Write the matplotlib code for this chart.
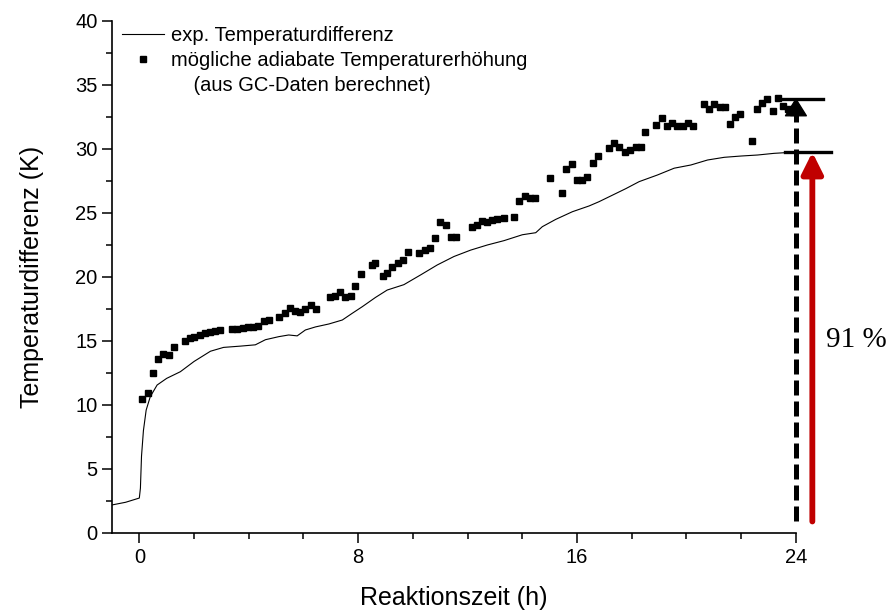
import matplotlib
matplotlib.use("Agg")
import matplotlib.pyplot as plt
from matplotlib.lines import Line2D
from matplotlib.ticker import MultipleLocator

plt.rcParams['font.family'] = ['Liberation Sans', 'DejaVu Sans']

# gemessene Temperaturdifferenz (Zeit in h, dT in K)
t_exp = [-1.0, -0.5, 0.0, 0.04, 0.08, 0.15, 0.25, 0.4, 0.65, 1.0, 1.5, 2.0,
         2.6, 3.08, 3.7, 4.24, 4.61, 5.1, 5.46, 5.77, 6.07, 6.44, 6.93, 7.42,
         7.78, 8.15, 8.63, 9.06, 9.67, 10.28, 10.89, 11.5, 12.11, 12.72,
         13.33, 14.0, 14.49, 14.73, 15.22, 15.83, 16.44, 16.8, 17.3, 17.78,
         18.27, 18.94, 19.55, 20.16, 20.77, 21.38, 21.99, 22.6, 23.2, 23.82,
         24.0]
dT_exp = [2.19, 2.4, 2.73, 3.5, 6.0, 8.0, 9.6, 10.65, 11.56, 12.08, 12.6, 13.4,
          14.2, 14.5, 14.6, 14.7, 15.1, 15.34, 15.47, 15.4, 15.86, 16.1, 16.33,
          16.64, 17.16, 17.68, 18.4, 18.98, 19.4, 20.16, 20.94, 21.6, 22.1,
          22.5, 22.84, 23.3, 23.46, 23.93, 24.5, 25.1, 25.55, 25.88, 26.4,
          26.9, 27.45, 27.97, 28.5, 28.75, 29.14, 29.35, 29.45, 29.53, 29.66,
          29.74, 29.78]

# adiabate Temperaturerhöhung aus GC-Daten
t_gc = [0.10, 0.31, 0.50, 0.68, 0.88, 1.07, 1.26, 1.66, 1.84, 2.01, 2.20, 2.39,
        2.57, 2.76, 2.94, 3.39, 3.57, 3.78, 3.98, 4.15, 4.34, 4.55, 4.73, 5.12,
        5.32, 5.50, 5.68, 5.89, 6.07, 6.28, 6.47, 6.96, 7.15, 7.33, 7.51, 7.72,
        7.90, 8.09, 8.49, 8.63, 8.89, 9.06, 9.25, 9.45, 9.63, 9.83, 10.22,
        10.43, 10.61, 10.80, 10.99, 11.20, 11.38, 11.56, 12.15, 12.36, 12.54,
        12.72, 12.90, 13.09, 13.33, 13.70, 13.88, 14.09, 14.27, 14.46, 15.01,
        15.44, 15.61, 15.80, 15.99, 16.17, 16.38, 16.59, 16.77, 17.17, 17.36,
        17.54, 17.75, 17.93, 18.15, 18.35, 18.50, 18.90, 19.09, 19.28, 19.47,
        19.65, 19.86, 20.04, 20.24, 20.63, 20.83, 21.02, 21.22, 21.42, 21.59,
        21.78, 21.96, 22.38, 22.58, 22.76, 22.94, 23.15, 23.33, 23.51, 23.70,
        23.88]
dT_gc = [10.44, 10.9, 12.5, 13.6, 14.0, 13.9, 14.5, 15.0, 15.2, 15.34, 15.47,
         15.6, 15.73, 15.8, 15.86, 15.94, 15.94, 16.04, 16.1, 16.1, 16.2, 16.56,
         16.64, 16.85, 17.16, 17.6, 17.34, 17.27, 17.5, 17.8, 17.47, 18.4, 18.5,
         18.8, 18.46, 18.54, 19.3, 20.2, 20.9, 21.07, 20.08, 20.3, 20.8, 21.1,
         21.33, 21.98, 21.9, 22.1, 22.3, 23.07, 24.27, 24.1, 23.1, 23.15, 23.88,
         24.06, 24.38, 24.3, 24.45, 24.5, 24.63, 24.7, 25.9, 26.3, 26.2, 26.15,
         27.7, 26.6, 28.4, 28.8, 27.58, 27.58, 27.84, 28.88, 29.45, 30.1, 30.5,
         30.13, 29.8, 29.92, 30.13, 30.12, 31.32, 31.9, 32.45, 31.8, 32.06,
         31.76, 31.76, 32.0, 31.76, 33.5, 33.1, 33.5, 33.3, 33.25, 31.95, 32.47,
         32.7, 30.65, 33.1, 33.6, 33.87, 32.99, 33.96, 33.38, 33.1, 32.87]

# Endwerte nach 24 h
t_end = 24.0
dT_adiabat = 33.9
dT_real = 29.75
anteil_label = "91 %"

fig = plt.figure(figsize=(8.9, 6.12), dpi=100)
ax = fig.add_axes([0.1258, 0.1291, 0.7685, 0.8366])

ax.plot(t_exp, dT_exp, color='black', lw=0.8)
ax.plot(t_gc, dT_gc, 's', color='black', ms=4.6, mec='black')

ax.set_xlim(-1, 24)
ax.set_ylim(0, 40)
ax.xaxis.set_major_locator(MultipleLocator(8))
ax.xaxis.set_minor_locator(MultipleLocator(2))
ax.yaxis.set_major_locator(MultipleLocator(5))
ax.yaxis.set_minor_locator(MultipleLocator(2.5))
ax.spines['top'].set_visible(False)
ax.spines['right'].set_visible(False)
for s in ('left', 'bottom'):
    ax.spines[s].set_linewidth(1.2)
ax.tick_params(which='major', direction='out', length=7, width=1.1,
               labelsize=14.5)
ax.tick_params(which='minor', direction='out', length=4, width=1.1)

ax.set_xlabel("Reaktionszeit (h)", fontsize=18, labelpad=14)
ax.set_ylabel("Temperaturdifferenz (K)", fontsize=18, labelpad=22)

# Pfeile und Markierungen rechts
ax.plot([t_end, t_end], [0.9, dT_adiabat - 1.0], color='black', lw=3.6,
        dashes=(3, 1.2), clip_on=False, solid_capstyle='butt')
ax.annotate("", xy=(t_end, dT_adiabat + 0.1), xytext=(t_end, dT_adiabat - 1.2),
            arrowprops=dict(arrowstyle='-|>,head_length=0.4,head_width=0.25',
                            color='black', lw=1, mutation_scale=30,
                            shrinkA=0, shrinkB=0),
            annotation_clip=False)
ax.annotate("", xy=(t_end + 0.6, dT_real), xytext=(t_end + 0.6, 0.9),
            arrowprops=dict(arrowstyle='-|>,head_length=0.4,head_width=0.2',
                            color='#c00000', lw=4.2, mutation_scale=32,
                            shrinkA=0, shrinkB=0),
            annotation_clip=False)
ax.plot([23.4, 25.0], [dT_adiabat, dT_adiabat], color='black', lw=2.4,
        clip_on=False)
ax.plot([23.6, 25.3], [dT_real, dT_real], color='black', lw=2.4,
        clip_on=False)
ax.text(25.1, 15.1, anteil_label, fontsize=21, family='Liberation Serif',
        ha='left', va='center', clip_on=False)

handles = [
    Line2D([], [], color='black', lw=0.8),
    Line2D([], [], ls='none', marker='s', color='black', ms=4.6),
    Line2D([], [], ls='none'),
]
labels = ["exp. Temperaturdifferenz",
          "mögliche adiabate Temperaturerhöhung",
          "    (aus GC-Daten berechnet)"]
ax.legend(handles, labels, loc='upper left', bbox_to_anchor=(0.0, 1.01),
          frameon=False, fontsize=14.5, handlelength=2.1, handletextpad=0.35,
          labelspacing=0.3, borderpad=0.3, borderaxespad=0.2)

fig.savefig("out.png", dpi=100)
